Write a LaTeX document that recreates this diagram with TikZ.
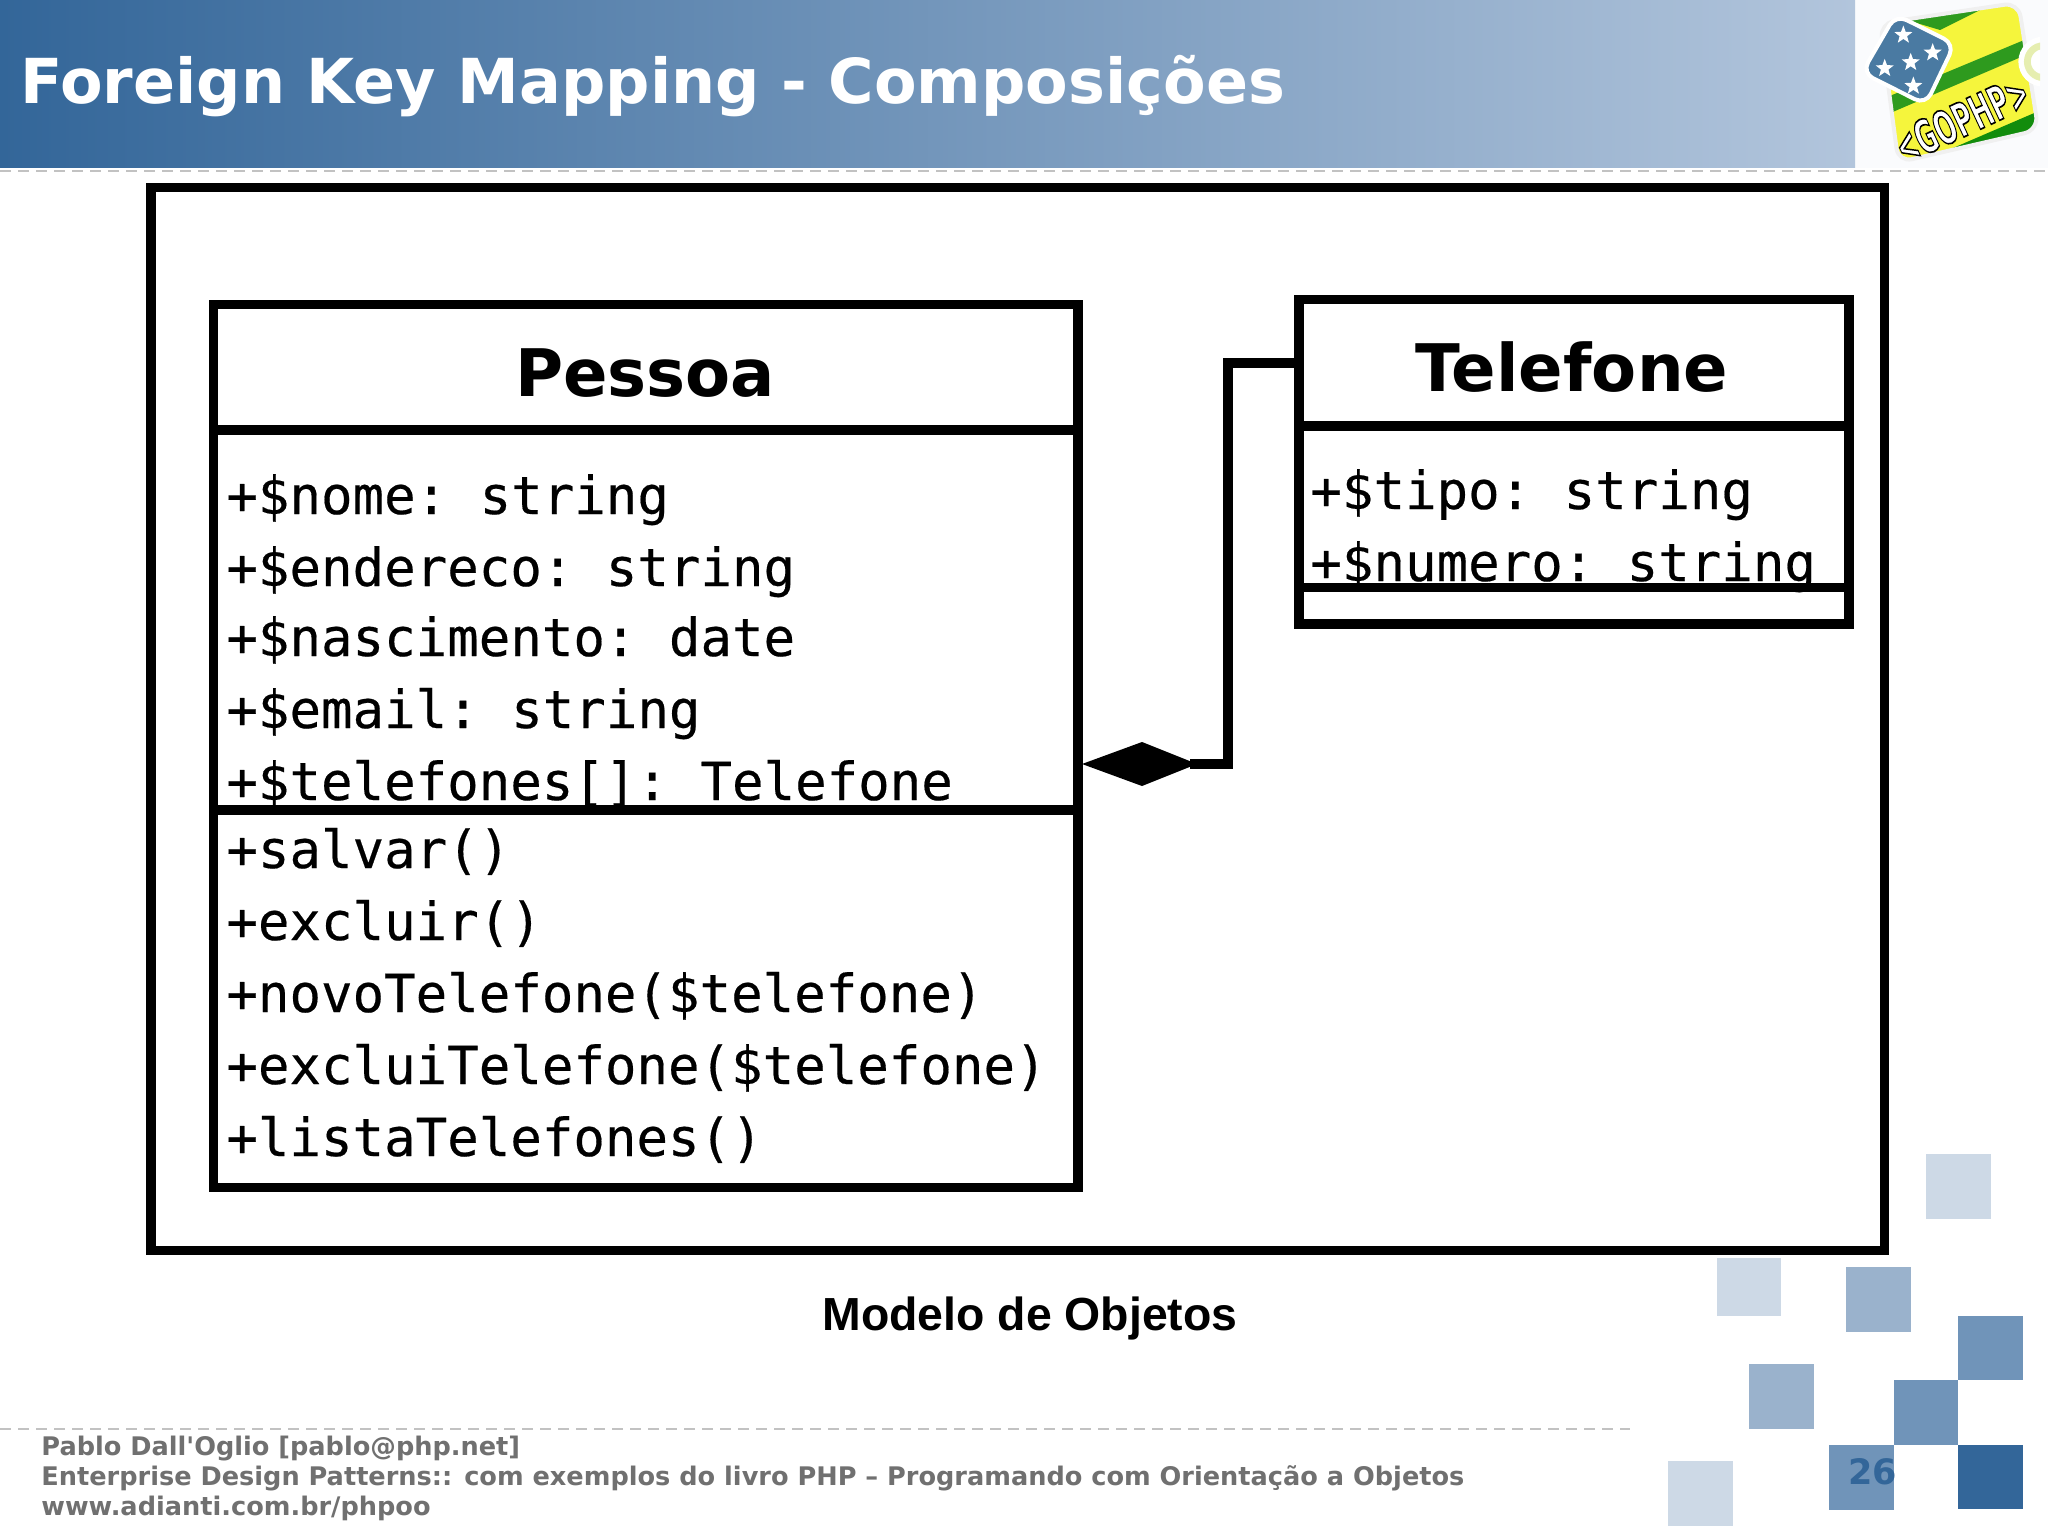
\documentclass[tikz,border=0pt]{standalone}
\usepackage{fontspec}
\usetikzlibrary{shapes.geometric}
\setmainfont{DejaVu Sans}
\newfontfamily\umlmono[FakeBold=0.35]{DejaVu Sans Mono}
\newfontfamily\capfont{Liberation Sans}
\newfontfamily\footfont{DejaVu Sans}
\newcommand{\csp}{\hspace{-4.8pt}}
\definecolor{hdA}{HTML}{336699}
\definecolor{hdB}{HTML}{B2C5DC}
\definecolor{sqA}{HTML}{CDD9E6}
\definecolor{sqB}{HTML}{9AB2CC}
\definecolor{sqC}{HTML}{7094B9}
\definecolor{sqD}{HTML}{336699}
\definecolor{foot}{HTML}{707070}
\definecolor{dashg}{HTML}{C2C2C2}
\definecolor{lgGreen}{HTML}{2E9A1E}
\definecolor{lgGreenB}{HTML}{128C0C}
\definecolor{lgYellow}{HTML}{F5F53C}
\definecolor{lgBlue}{HTML}{4A7AA2}
\definecolor{lgRing}{HTML}{E6EEB0}
\definecolor{lgBack}{HTML}{FAFBFD}
\tikzset{
  umlbox/.style={line width=4.8pt,draw=black},
  member/.style={anchor=base west,inner sep=0pt,font=\umlmono\fontsize{26.2}{30}\selectfont},
  clsname/.style={anchor=base,inner sep=0pt,font=\bfseries\fontsize{32.8}{36}\selectfont},
  footline/.style={anchor=base west,inner sep=0pt,text=foot,font=\footfont\bfseries\fontsize{12.8}{16}\selectfont},
  hdash/.style={dashg,line width=1.4pt,dash pattern=on 5.5pt off 3.5pt}
}
\begin{document}
\begin{tikzpicture}[x=0.5pt,y=-0.5pt]
\useasboundingbox (0,0) rectangle (2048,1535);
\fill[white] (0,0) rectangle (2048,1535);
% header
\fill[lgBack] (1855,0) rectangle (2048,168);
\shade[left color=hdA,right color=hdB,shading angle=90] (0,0) rectangle (1855,168);
\node[anchor=base west,inner sep=0pt,text=white,font=\bfseries\fontsize{31}{36}\selectfont] (title) at (20,104) {Foreign Key Mapping - Composições};
\draw[hdash] (0,171) -- (2048,171);
% logo
\begin{scope}[shift={(1780,0)},x=0.16667pt,y=-0.16667pt]
\clip (0,0) rectangle (780,510);
\begin{scope}
\clip[rounded corners=7pt] (300,70) -- (715,8) -- (775,390) -- (355,487) -- cycle;
\fill[lgYellow] (250,0) rectangle (800,510);
\fill[lgGreen] (380,60) -- (640,10) -- (480,90) -- cycle;
\fill[lgGreen] (310,296) -- (730,121) -- (740,164) -- (310,348) -- cycle;
\fill[lgGreenB] (470,465) -- (765,338) -- (790,400) -- (500,490) -- cycle;
\end{scope}
\draw[white!88!gray,line width=2pt,rounded corners=7pt] (300,70) -- (715,8) -- (775,390) -- (355,487) -- cycle;
\fill[white] (790,185) circle (75);
\draw[line width=3.4pt,draw=lgRing] (790,185) circle (48);
\draw[line width=2pt,draw=white,fill=lgBlue,rounded corners=6pt] (347,44) -- (524,132) -- (437,314) -- (246,218) -- cycle;
\foreach \sx/\sy in {370/105,458/158,392/187,314/205,400/258}
  \node[star,star points=5,star point ratio=2.4,fill=white,draw=none,minimum size=9.5pt,inner sep=0pt] (star\sx) at (\sx,\sy) {};
\node[inner sep=0pt,rotate=25,text=white,font=\bfseries\fontsize{17}{18}\selectfont] (gophp) at (545,358) {\special{pdf:code q 2 Tr 0.6 w 0 0 0 RG 1 1 1 rg}\scalebox{0.74}[1.37]{<GOPHP>}\special{pdf:code Q}};
\end{scope}
% outer frame
\draw[line width=4.8pt] (151,187.5) rectangle (1884.5,1250.5);
% Pessoa
\draw[umlbox] (213.5,304.5) rectangle (1078,1187.5);
\draw[umlbox] (213.5,430) -- (1078,430);
\draw[umlbox] (213.5,810) -- (1078,810);
\node[clsname] (pessoa) at (645,396) {Pessoa};
\foreach \yy/\tt in {514/+\$nome:\csp{} string,586/+\$endereco:\csp{} string,656/+\$nascimento:\csp{} date,728/+\$email:\csp{} string,800/+\$telefones{[}{]}:\csp{} Telefone,868/+salvar(),940/+excluir(),1012/+novoTelefone(\$telefone),1084/+excluiTelefone(\$telefone),1156/+listaTelefones()}
  \node[member] (m\yy) at (226,\yy) {\tt};
% Telefone
\draw[umlbox] (1299,299.5) rectangle (1849,624);
\draw[umlbox] (1299,426) -- (1849,426);
\draw[umlbox] (1299,587.5) -- (1849,587.5);
\node[clsname] (telefone) at (1572,391) {Telefone};
\node[member] (t1) at (1310,509) {+\$tipo:\csp{} string};
\node[member] (t2) at (1310,581) {+\$numero:\csp{} string};
% composition
\coordinate (conA) at (1297,363);
\coordinate (conB) at (1228,363);
\coordinate (conC) at (1228,764);
\coordinate (conD) at (1190,764);
\fill[black] (1082,764) -- (1142,742) -- (1197,764) -- (1142,786) -- cycle;
\draw[line width=4.8pt] (conA) -- (conB) -- (conC) -- (conD);
% caption
\node[anchor=base,inner sep=0pt,font=\capfont\bfseries\fontsize{23.2}{26}\selectfont] (cap) at (1030,1330) {Modelo de Objetos};
% squares
\fill[sqA] (1926,1154) rectangle (1991,1219);
\fill[sqA] (1717,1258) rectangle (1781,1316);
\fill[sqB] (1846,1267) rectangle (1911,1332);
\fill[sqC] (1958,1316) rectangle (2023,1380);
\fill[sqC] (1894,1380) rectangle (1958,1445);
\fill[sqB] (1749,1364) rectangle (1814,1429);
\fill[sqC] (1829,1445) rectangle (1894,1510);
\fill[sqD] (1958,1445) rectangle (2023,1509);
\fill[sqA] (1668,1461) rectangle (1733,1526);
\node[anchor=base west,inner sep=0pt,text=sqD,font=\bfseries\fontsize{17.5}{20}\selectfont] (pg) at (1848,1484) {26};
% footer
\draw[hdash] (0,1429) -- (1630,1429);
\node[footline] (f1) at (41,1455) {Pablo Dall'Oglio [pablo@php.net]};
\node[footline] (f2) at (41,1485) {Enterprise Design Patterns:: com exemplos do livro PHP – Programando com Orientação a Objetos};
\node[footline] (f3) at (41,1515) {www.adianti.com.br/phpoo};
\end{tikzpicture}
\end{document}
